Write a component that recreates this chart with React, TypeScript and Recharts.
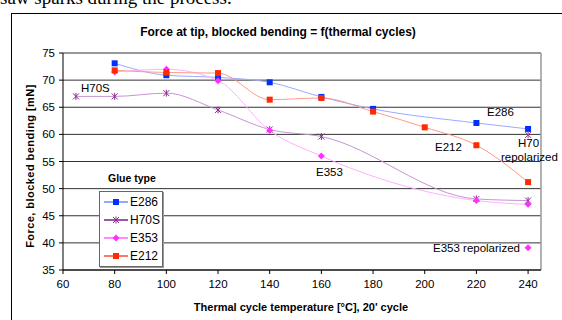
import { LineChart, Line, XAxis, YAxis, CartesianGrid, ReferenceLine } from "recharts";

const FONT = "Arial, 'Liberation Sans', sans-serif";

const xTicks = [60, 80, 100, 120, 140, 160, 180, 200, 220, 240];
const yTicks = [35, 40, 45, 50, 55, 60, 65, 70, 75];

const e286Temps = [80, 100, 120, 140, 160, 180, 220, 240];
const e286Force = [73.1, 70.9, 70.5, 69.6, 66.9, 64.7, 62.1, 61.0];

const h70sTemps = [65, 80, 100, 120, 140, 160, 220, 240];
const h70sForce = [67.0, 67.0, 67.6, 64.5, 60.9, 59.6, 48.1, 47.8];

const e353Temps = [80, 100, 120, 140, 160, 220, 240];
const e353Force = [71.5, 72.0, 69.9, 60.7, 56.0, 47.8, 47.1];

const e212Temps = [80, 100, 120, 140, 160, 180, 200, 220, 240];
const e212Force = [71.8, 71.4, 71.3, 66.4, 66.7, 64.2, 61.3, 58.0, 51.2];

const h70RepolTemps = [240];
const h70RepolForce = [59.9];
const e353RepolTemps = [240];
const e353RepolForce = [39.1];

const toRows = (xs: number[], ys: number[]) => xs.map((t, i) => ({ t, v: ys[i] }));

type Series = {
  name: string;
  rows: { t: number; v: number }[];
  line: string;
  marker: string;
  legendLine: string;
  shape: "square" | "star" | "diamond";
};

const series: Series[] = [
  { name: "E286", rows: toRows(e286Temps, e286Force), line: "#9aabff", marker: "#0030ff", legendLine: "#6f8cff", shape: "square" },
  { name: "H70S", rows: toRows(h70sTemps, h70sForce), line: "#c596cf", marker: "#8e2a8e", legendLine: "#7a1f86", shape: "star" },
  { name: "E353", rows: toRows(e353Temps, e353Force), line: "#ffb0ff", marker: "#ff30ff", legendLine: "#ff66ff", shape: "diamond" },
  { name: "E212", rows: toRows(e212Temps, e212Force), line: "#ff9a88", marker: "#ff2a00", legendLine: "#ff4a30", shape: "square" },
];

const Marker = ({ cx, cy, color, shape }: { cx?: number; cy?: number; color: string; shape: string }) => {
  if (cx == null || cy == null) return null;
  if (shape === "square") {
    return <rect x={cx - 3} y={cy - 3} width={6} height={6} fill={color} />;
  }
  if (shape === "diamond") {
    return <path d={`M${cx},${cy - 3.5} L${cx + 3.5},${cy} L${cx},${cy + 3.5} L${cx - 3.5},${cy} Z`} fill={color} />;
  }
  return (
    <g stroke={color} strokeWidth={1}>
      <line x1={cx - 3} y1={cy - 3} x2={cx + 3} y2={cy + 3} />
      <line x1={cx - 3} y1={cy + 3} x2={cx + 3} y2={cy - 3} />
      <line x1={cx} y1={cy - 3.5} x2={cx} y2={cy + 3.5} />
    </g>
  );
};

const LegendBox = () => (
  <div
    style={{
      position: "absolute",
      left: 99,
      top: 191,
      border: "1px solid #666",
      boxShadow: "1px 1px 0 #999",
      background: "#fff",
      width: 62,
      padding: "1px 0",
      fontFamily: FONT,
      fontSize: 12,
    }}
  >
    {series.map((s) => (
      <div key={s.name} style={{ display: "flex", alignItems: "center", height: 18 }}>
        <svg width={30} height={18}>
          <line x1={4} y1={9} x2={28} y2={9} stroke={s.legendLine} strokeWidth={1.5} />
          <Marker cx={16} cy={9} color={s.marker} shape={s.shape} />
        </svg>
        <span>{s.name}</span>
      </div>
    ))}
  </div>
);

const note = (text: string, left: number, top: number) => (
  <div style={{ position: "absolute", left, top, fontFamily: FONT, fontSize: 11.5, lineHeight: "13px", whiteSpace: "nowrap" }}>
    {text}
  </div>
);

export default function App() {
  return (
    <div style={{ position: "absolute", left: 0, top: 0, width: 562, height: 320, overflow: "hidden", background: "#fff" }}>
      <div
        style={{
          position: "absolute",
          left: 0,
          top: -12,
          fontFamily: "'Times New Roman', 'Liberation Serif', serif",
          fontSize: 19,
          lineHeight: "19px",
          whiteSpace: "nowrap",
        }}
      >
        saw sparks during the process.
      </div>
      <div style={{ position: "absolute", left: 11, top: 13, width: 600, height: 400, border: "1px solid #000" }} />
      <div
        style={{
          position: "absolute",
          left: 0,
          width: 556,
          top: 25,
          textAlign: "center",
          fontFamily: FONT,
          fontWeight: "bold",
          fontSize: 12,
        }}
      >
        Force at tip, blocked bending = f(thermal cycles)
      </div>
      <div style={{ position: "absolute", left: 0, top: 0 }}>
        <LineChart width={562} height={320} margin={{ top: 53, right: 21, bottom: 0, left: 0 }}>
          <CartesianGrid vertical={false} stroke="#333" strokeWidth={1} />
          <XAxis
            type="number"
            dataKey="t"
            domain={[60, 245]}
            ticks={xTicks}
            allowDataOverflow
            height={50}
            stroke="#000"
            tickSize={4}
            tickMargin={6}
            tick={{ fill: "#000", fontSize: 11.5, fontFamily: FONT }}
          />
          <YAxis
            type="number"
            domain={[35, 75]}
            ticks={yTicks}
            width={63}
            stroke="#000"
            tickSize={4}
            tickMargin={4}
            tick={{ fill: "#000", fontSize: 11.5, fontFamily: FONT }}
          />
          <ReferenceLine y={75} stroke="#999" strokeWidth={1.5} />
          <ReferenceLine x={245} stroke="#999" strokeWidth={1.5} />
          {series.map((s) => (
            <Line
              key={s.name}
              data={s.rows}
              dataKey="v"
              name={s.name}
              type="monotone"
              stroke={s.line}
              strokeWidth={1}
              isAnimationActive={false}
              dot={(p: any) => <Marker key={`${s.name}-${p.index}`} cx={p.cx} cy={p.cy} color={s.marker} shape={s.shape} />}
            />
          ))}
          <Line
            data={toRows(h70RepolTemps, h70RepolForce)}
            dataKey="v"
            stroke="none"
            isAnimationActive={false}
            legendType="none"
            dot={(p: any) => <Marker key={`h70r-${p.index}`} cx={p.cx} cy={p.cy} color="#a040a0" shape="star" />}
          />
          <Line
            data={toRows(e353RepolTemps, e353RepolForce)}
            dataKey="v"
            stroke="none"
            isAnimationActive={false}
            legendType="none"
            dot={(p: any) => <Marker key={`e353r-${p.index}`} cx={p.cx} cy={p.cy} color="#ff30ff" shape="diamond" />}
          />
        </LineChart>
      </div>
      <LegendBox />
      <div
        style={{
          position: "absolute",
          left: 108,
          top: 172,
          fontFamily: FONT,
          fontWeight: "bold",
          fontSize: 10.5,
        }}
      >
        Glue type
      </div>
      <div
        style={{
          position: "absolute",
          left: 30,
          top: 166,
          transform: "translate(-50%, -50%) rotate(-90deg)",
          fontFamily: FONT,
          fontWeight: "bold",
          fontSize: 11,
          letterSpacing: 0.45,
          whiteSpace: "nowrap",
        }}
      >
        Force, blocked bending [mN]
      </div>
      <div
        style={{
          position: "absolute",
          left: 0,
          width: 602,
          top: 301,
          textAlign: "center",
          fontFamily: FONT,
          fontWeight: "bold",
          fontSize: 11,
        }}
      >
        Thermal cycle temperature [°C], 20' cycle
      </div>
      {note("H70S", 81, 82)}
      {note("E286", 487, 106)}
      {note("E212", 435, 141)}
      {note("H70", 518, 137)}
      {note("repolarized", 501, 151)}
      {note("E353", 316, 166)}
      {note("E353 repolarized", 433, 242)}
    </div>
  );
}
